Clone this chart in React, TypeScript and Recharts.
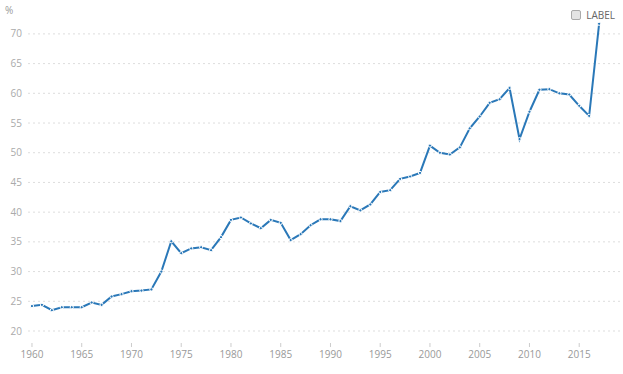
import { Line, LineChart, ReferenceLine, XAxis, YAxis } from "recharts"

// years and share (%)
const years = [
  1960, 1961, 1962, 1963, 1964, 1965, 1966, 1967, 1968, 1969,
  1970, 1971, 1972, 1973, 1974, 1975, 1976, 1977, 1978, 1979,
  1980, 1981, 1982, 1983, 1984, 1985, 1986, 1987, 1988, 1989,
  1990, 1991, 1992, 1993, 1994, 1995, 1996, 1997, 1998, 1999,
  2000, 2001, 2002, 2003, 2004, 2005, 2006, 2007, 2008, 2009,
  2010, 2011, 2012, 2013, 2014, 2015, 2016, 2017,
]
const values = [
  24.2, 24.4, 23.5, 24.0, 24.0, 24.0, 24.8, 24.4, 25.8, 26.2,
  26.7, 26.8, 27.0, 30.0, 35.1, 33.1, 33.9, 34.1, 33.6, 35.8,
  38.7, 39.1, 38.1, 37.3, 38.7, 38.2, 35.3, 36.3, 37.8, 38.8,
  38.8, 38.5, 41.0, 40.3, 41.3, 43.4, 43.7, 45.6, 46.0, 46.6,
  51.2, 50.0, 49.7, 50.9, 54.1, 56.1, 58.4, 59.0, 60.9, 52.3,
  56.9, 60.6, 60.7, 60.0, 59.8, 57.9, 56.2, 71.7,
]
const xTicks = [1960, 1965, 1970, 1975, 1980, 1985, 1990, 1995, 2000, 2005, 2010, 2015]
const yTicks = [20, 25, 30, 35, 40, 45, 50, 55, 60, 65, 70]

const data = years.map((year, i) => ({ year, value: values[i] }))

const FONT = "'Open Sans', sans-serif"
const BLUE = "#2a78b8"

function XTick({ x, y, payload }: any) {
  return (
    <g>
      <line x1={x} x2={x} y1={y + 12} y2={y + 16} stroke="#ccc" />
      <text x={x} y={y + 27} textAnchor="middle" fontSize={10} fill="#999" fontFamily={FONT}>
        {payload.value}
      </text>
    </g>
  )
}

export default function App() {
  return (
    <div style={{ position: "absolute", left: 0, top: 0, width: 623, height: 374 }}>
      <div style={{ position: "absolute", left: 5, top: 3, fontFamily: FONT, fontSize: 10, color: "#999" }}>%</div>
      <div
        style={{
          position: "absolute",
          right: 8,
          top: 8,
          display: "flex",
          alignItems: "center",
          fontFamily: FONT,
          fontSize: 10,
          color: "#666",
        }}
      >
        <span
          style={{
            width: 8,
            height: 8,
            border: "1px solid #aaa",
            borderRadius: 2,
            background: "#e4e4e4",
            marginRight: 5,
          }}
        />
        LABEL
      </div>
      <LineChart width={623} height={374} data={data} margin={{ top: 22, right: 2, left: 0, bottom: 0 }}>
        {/* grid lines only at labelled ticks */}
        {yTicks.map((t) => (
          <ReferenceLine key={t} y={t} stroke="#ddd" strokeDasharray="2 3" />
        ))}
        <XAxis
          dataKey="year"
          type="number"
          domain={[1959.6, 2019.2]}
          ticks={xTicks}
          axisLine={false}
          tickLine={false}
          tickSize={0}
          tickMargin={0}
          height={43}
          tick={<XTick />}
          interval={0}
        />
        <YAxis
          domain={[20, 72]}
          ticks={yTicks}
          axisLine={false}
          tickLine={false}
          tickSize={0}
          tickMargin={6}
          width={28}
          interval={0}
          tick={{ fontSize: 10, fill: "#aaa", fontFamily: FONT }}
        />
        <Line
          type="linear"
          dataKey="value"
          stroke={BLUE}
          strokeWidth={2}
          dot={{ r: 1.6, fill: BLUE, stroke: "#fff", strokeWidth: 1 }}
          activeDot={false}
          isAnimationActive={false}
        />
      </LineChart>
    </div>
  )
}
